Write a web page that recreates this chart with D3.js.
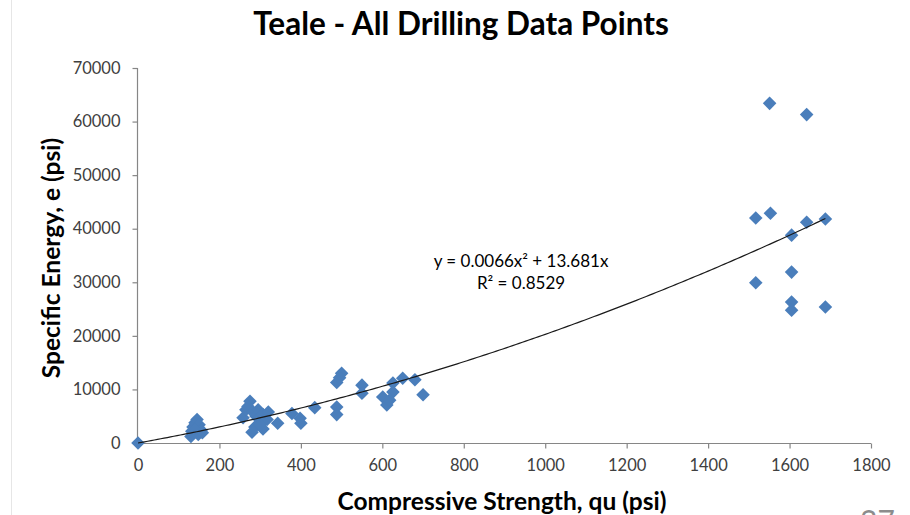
<!DOCTYPE html>
<html>
<head>
<meta charset="utf-8">
<script src="https://cdn.jsdelivr.net/npm/d3@7"></script>
<style>
  html, body { margin: 0; padding: 0; background: #fff; }
  svg { display: block; }
</style>
</head>
<body>
<svg id="chart" width="910" height="515"></svg>
<script>
// Compressive strength qu (psi) for each drilling data point
const strength = [
  0,
  130, 132, 135, 140, 145, 150, 155, 148, 140, 158,
  258, 265, 275, 270, 282, 290, 295, 300, 307, 317, 320, 343, 287, 280, 307, 300,
  378, 398, 400, 434,
  488, 488, 488, 500, 495,
  550, 550, 626, 650, 680, 601, 611, 626, 700, 618,
  1551, 1642, 1517, 1553, 1642, 1688, 1605, 1605, 1517, 1605, 1605, 1688
];
// Specific energy e (psi) for the same points
const energy = [
  0,
  1200, 2200, 3000, 3800, 4400, 3400, 2400, 1600, 2600, 1900,
  4700, 6200, 7800, 6800, 5800, 5000, 6200, 4800, 5300, 4400, 5800, 3700, 3000, 2000, 2600, 3400,
  5500, 4600, 3700, 6600,
  6700, 5300, 11300, 13000, 12200,
  10800, 9300, 11200, 12100, 11800, 8600, 7100, 9500, 9000, 8000,
  63400, 61300, 42000, 42900, 41200, 41800, 38800, 31900, 29900, 26300, 24800, 25400
];
// Polynomial trendline coefficients: y = a*x^2 + b*x
const trendA = 0.0066;
const trendB = 13.681;
const trendEnd = 1688;
const trendLabel = ["y = 0.0066x\u00B2 + 13.681x", "R\u00B2 = 0.8529"];

const xTicks = [0, 200, 400, 600, 800, 1000, 1200, 1400, 1600, 1800];
const yTicks = [0, 10000, 20000, 30000, 40000, 50000, 60000, 70000];

const svg = d3.select("#chart");
const m = { left: 138, top: 68, right: 871, bottom: 443 };

const font = "Lato, 'Open Sans', 'Liberation Sans', sans-serif";
const axisColor = "#868686";
const markColor = "#4a7ebb";

// faint slide frame on the left
svg.append("line")
  .attr("x1", 11.5).attr("x2", 11.5).attr("y1", 0).attr("y2", 515)
  .attr("stroke", "#e6e6e6").attr("stroke-width", 1);

const x = d3.scaleLinear().domain([0, 1800]).range([m.left, m.right]);
const y = d3.scaleLinear().domain([0, 70000]).range([m.bottom, m.top]);

// title
svg.append("text")
  .attr("x", 461).attr("y", 35)
  .attr("text-anchor", "middle")
  .attr("font-family", font).attr("font-weight", "bold")
  .attr("font-size", 31.5).attr("fill", "#000")
  .text("Teale - All Drilling Data Points");

// axes
const xAxis = d3.axisBottom(x).tickValues(xTicks).tickSize(5).tickPadding(11).tickFormat(d3.format("d"));
const yAxis = d3.axisLeft(y).tickValues(yTicks).tickSize(5).tickPadding(12).tickFormat(d3.format("d"));

const gx = svg.append("g").attr("transform", `translate(0,${m.bottom + 0.5})`).call(xAxis);
const gy = svg.append("g").attr("transform", `translate(${m.left - 0.5},0)`).call(yAxis);

[gx, gy].forEach(g => {
  g.select(".domain").attr("stroke", axisColor).attr("stroke-width", 1.2);
  g.selectAll(".tick line").attr("stroke", axisColor).attr("stroke-width", 1.2);
  g.selectAll(".tick text")
    .attr("font-family", font).attr("font-size", 16.5).attr("fill", "#404040");
});
gx.select(".domain").attr("d", `M${m.left},0H${m.right}`);
gy.select(".domain").attr("d", `M0,${m.top}V${m.bottom}`);

// axis titles
svg.append("text")
  .attr("x", 502).attr("y", 510)
  .attr("text-anchor", "middle")
  .attr("font-family", font).attr("font-weight", "bold")
  .attr("font-size", 24.5).attr("fill", "#000")
  .text("Compressive Strength, qu (psi)");

svg.append("text")
  .attr("transform", `translate(60,258) rotate(-90)`)
  .attr("text-anchor", "middle")
  .attr("font-family", font).attr("font-weight", "bold")
  .attr("font-size", 24.5).attr("fill", "#000")
  .text("Specific Energy, e (psi)");

// points, drawn as diamonds (rotated squares)
const pts = strength.map((q, i) => ({ q, e: energy[i] }));
svg.append("g").selectAll("path")
  .data(pts)
  .join("path")
  .attr("transform", d => `translate(${x(d.q)},${y(d.e)}) rotate(45)`)
  .attr("d", d3.symbol().type(d3.symbolSquare).size(92))
  .attr("fill", markColor);

// trendline
const trendX = d3.range(0, trendEnd + 1, 8).concat([trendEnd]);
const line = d3.line().x(d => x(d)).y(d => y(trendA * d * d + trendB * d));
svg.append("path")
  .datum(trendX)
  .attr("d", line)
  .attr("fill", "none")
  .attr("stroke", "#1a1a1a")
  .attr("stroke-width", 1.2);

// trendline equation
const eq = svg.append("text")
  .attr("text-anchor", "middle")
  .attr("font-family", font).attr("font-size", 17).attr("fill", "#000");
eq.append("tspan").attr("x", 521).attr("y", 267).text(trendLabel[0]);
eq.append("tspan").attr("x", 521).attr("y", 289).text(trendLabel[1]);

// slide number, cut at the bottom edge
svg.append("text")
  .attr("x", 860).attr("y", 532)
  .attr("font-family", font).attr("font-size", 30).attr("fill", "#8c8c8c")
  .text("27");
</script>
</body>
</html>
